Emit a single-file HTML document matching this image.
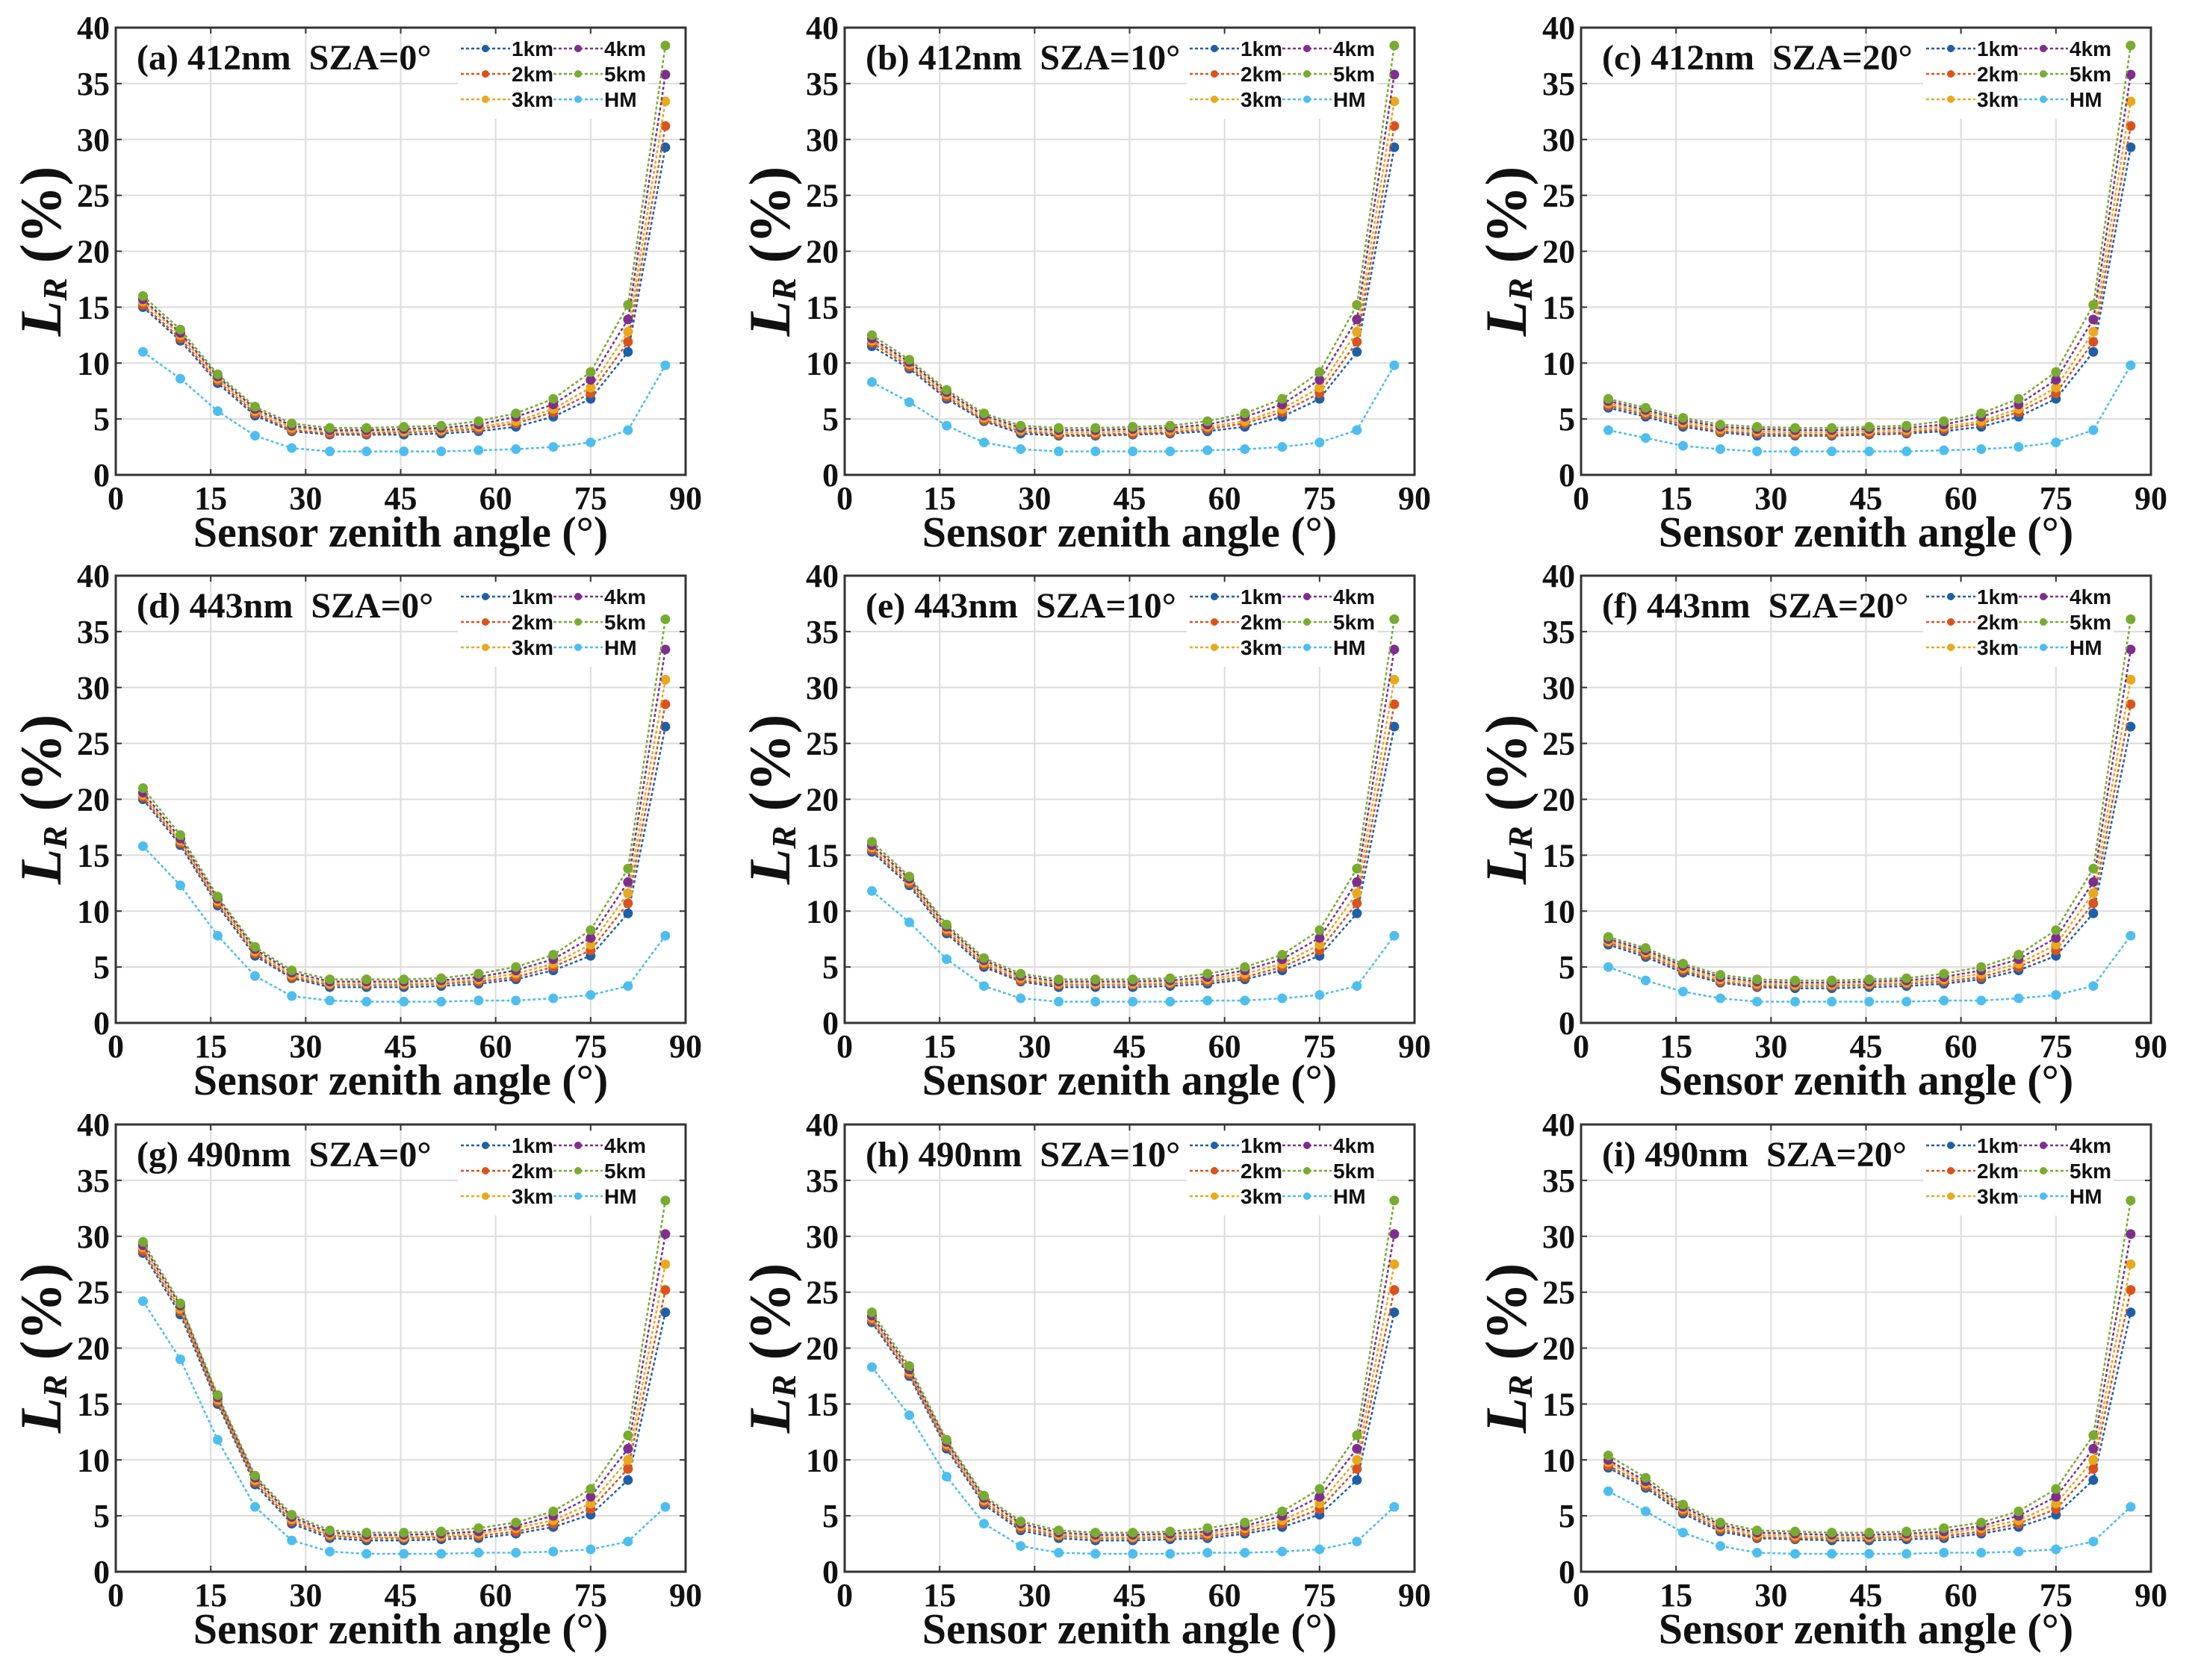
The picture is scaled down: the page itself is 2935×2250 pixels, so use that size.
<!DOCTYPE html>
<html><head><meta charset="utf-8"><style>
html,body{margin:0;padding:0;background:#fff;}
svg{display:block;}
text{font-family:"Liberation Serif",serif;font-weight:bold;fill:#111;}
.leg{font-family:"Liberation Sans",sans-serif;font-weight:bold;font-size:28px;}
</style></head><body>
<svg id="fig" xmlns="http://www.w3.org/2000/svg" width="2935" height="2250" viewBox="0 0 2935 2250"></svg>
<script>
const xAngles=[4.3,10.2,16.1,22,27.8,33.8,39.6,45.5,51.4,57.3,63.2,69.1,75,80.9,86.8];
const seriesNames=["1km","2km","3km","4km","5km","HM"];
const seriesColors=["#1f5fa8","#d9531e","#e8a91c","#7e2f8e","#77ac30","#4dbeee"];
const xTicks=[0,15,30,45,60,75,90];
const yTicks=[0,5,10,15,20,25,30,35,40];
const panelTitles=["(a) 412nm  SZA=0°","(b) 412nm  SZA=10°","(c) 412nm  SZA=20°","(d) 443nm  SZA=0°","(e) 443nm  SZA=10°","(f) 443nm  SZA=20°","(g) 490nm  SZA=0°","(h) 490nm  SZA=10°","(i) 490nm  SZA=20°"];
const panelA=[
[15.0,12.0,8.2,5.3,3.9,3.6,3.6,3.6,3.7,3.9,4.3,5.2,6.8,11.0,29.3],
[15.2,12.2,8.4,5.5,4.0,3.7,3.7,3.8,3.9,4.1,4.6,5.6,7.3,11.9,31.2],
[15.5,12.5,8.6,5.7,4.2,3.9,3.9,3.9,4.0,4.3,4.8,5.9,7.8,12.8,33.4],
[15.7,12.7,8.8,5.9,4.4,4.0,4.0,4.1,4.2,4.5,5.2,6.3,8.5,13.9,35.8],
[16.0,13.0,9.0,6.1,4.6,4.2,4.2,4.3,4.4,4.8,5.5,6.8,9.2,15.2,38.4],
[11.0,8.6,5.7,3.5,2.4,2.1,2.1,2.1,2.1,2.2,2.3,2.5,2.9,4.0,9.8]];
const panelB=[
[11.5,9.5,6.8,4.8,3.7,3.5,3.5,3.6,3.7,3.9,4.3,5.2,6.8,11.0,29.3],
[11.8,9.7,7.0,4.9,3.9,3.6,3.6,3.7,3.8,4.1,4.6,5.6,7.3,11.9,31.2],
[12.0,9.9,7.2,5.1,4.0,3.8,3.8,3.9,4.0,4.3,4.8,5.9,7.8,12.8,33.4],
[12.2,10.1,7.4,5.3,4.2,4.0,4.0,4.1,4.2,4.5,5.2,6.3,8.5,13.9,35.8],
[12.5,10.3,7.6,5.5,4.4,4.2,4.2,4.3,4.4,4.8,5.5,6.8,9.2,15.2,38.4],
[8.3,6.5,4.4,2.9,2.3,2.1,2.1,2.1,2.1,2.2,2.3,2.5,2.9,4.0,9.8]];
const panelC=[
[6.0,5.2,4.3,3.8,3.5,3.5,3.5,3.6,3.7,3.9,4.3,5.2,6.8,11.0,29.3],
[6.2,5.4,4.5,3.9,3.7,3.6,3.6,3.7,3.8,4.1,4.6,5.6,7.3,11.9,31.2],
[6.4,5.6,4.7,4.1,3.9,3.8,3.8,3.9,4.0,4.3,4.8,5.9,7.8,12.8,33.4],
[6.6,5.8,4.9,4.3,4.1,4.0,4.0,4.1,4.2,4.5,5.2,6.3,8.5,13.9,35.8],
[6.8,6.0,5.1,4.5,4.3,4.2,4.2,4.3,4.4,4.8,5.5,6.8,9.2,15.2,38.4],
[4.0,3.3,2.6,2.3,2.1,2.1,2.1,2.1,2.1,2.2,2.3,2.5,2.9,4.0,9.8]];
const panelD=[
[20.0,15.9,10.5,6.0,4.0,3.2,3.2,3.2,3.3,3.5,3.9,4.7,6.0,9.8,26.5],
[20.2,16.1,10.7,6.2,4.1,3.4,3.4,3.4,3.5,3.7,4.1,5.0,6.5,10.7,28.5],
[20.4,16.3,10.9,6.4,4.3,3.5,3.5,3.5,3.6,3.9,4.4,5.3,7.0,11.6,30.7],
[20.6,16.5,11.1,6.6,4.5,3.7,3.7,3.7,3.8,4.1,4.7,5.7,7.6,12.6,33.4],
[21.0,16.8,11.3,6.8,4.7,3.9,3.9,3.9,4.0,4.4,5.0,6.1,8.3,13.8,36.1],
[15.8,12.3,7.8,4.2,2.4,2.0,1.9,1.9,1.9,2.0,2.0,2.2,2.5,3.3,7.8]];
const panelE=[
[15.3,12.3,8.0,5.0,3.7,3.2,3.2,3.2,3.3,3.5,3.9,4.7,6.0,9.8,26.5],
[15.5,12.5,8.2,5.2,3.8,3.4,3.4,3.4,3.5,3.7,4.1,5.0,6.5,10.7,28.5],
[15.7,12.7,8.4,5.4,4.0,3.5,3.5,3.5,3.6,3.9,4.4,5.3,7.0,11.6,30.7],
[15.9,12.9,8.6,5.6,4.2,3.7,3.7,3.7,3.8,4.1,4.7,5.7,7.6,12.6,33.4],
[16.2,13.1,8.8,5.8,4.4,3.9,3.9,3.9,4.0,4.4,5.0,6.1,8.3,13.8,36.1],
[11.8,9.0,5.7,3.3,2.2,1.9,1.9,1.9,1.9,2.0,2.0,2.2,2.5,3.3,7.8]];
const panelF=[
[7.0,5.9,4.5,3.6,3.2,3.1,3.1,3.2,3.3,3.5,3.9,4.7,6.0,9.8,26.5],
[7.2,6.1,4.7,3.7,3.3,3.3,3.3,3.4,3.5,3.7,4.1,5.0,6.5,10.7,28.5],
[7.3,6.3,4.9,3.9,3.5,3.4,3.4,3.5,3.6,3.9,4.4,5.3,7.0,11.6,30.7],
[7.5,6.5,5.1,4.1,3.7,3.6,3.6,3.7,3.8,4.1,4.7,5.7,7.6,12.6,33.4],
[7.7,6.7,5.3,4.3,3.9,3.8,3.8,3.9,4.0,4.4,5.0,6.1,8.3,13.8,36.1],
[5.0,3.8,2.8,2.2,1.9,1.9,1.9,1.9,1.9,2.0,2.0,2.2,2.5,3.3,7.8]];
const panelG=[
[28.5,23.0,15.0,7.8,4.3,3.0,2.8,2.8,2.9,3.0,3.4,4.0,5.1,8.2,23.2],
[28.7,23.3,15.2,8.0,4.5,3.2,3.0,3.0,3.1,3.2,3.6,4.3,5.6,9.2,25.2],
[29.0,23.5,15.4,8.2,4.7,3.3,3.1,3.1,3.2,3.4,3.9,4.6,6.1,10.0,27.5],
[29.2,23.8,15.6,8.4,4.9,3.5,3.3,3.3,3.4,3.6,4.1,5.0,6.7,11.0,30.2],
[29.5,24.0,15.8,8.6,5.1,3.7,3.5,3.5,3.6,3.9,4.4,5.4,7.4,12.2,33.2],
[24.2,19.0,11.8,5.8,2.8,1.8,1.6,1.6,1.6,1.7,1.7,1.8,2.0,2.7,5.8]];
const panelH=[
[22.3,17.5,11.0,6.0,3.7,3.0,2.8,2.8,2.9,3.0,3.4,4.0,5.1,8.2,23.2],
[22.5,17.7,11.2,6.2,3.9,3.2,3.0,3.0,3.1,3.2,3.6,4.3,5.6,9.2,25.2],
[22.7,17.9,11.4,6.4,4.1,3.3,3.1,3.1,3.2,3.4,3.9,4.6,6.1,10.0,27.5],
[22.9,18.1,11.6,6.6,4.3,3.5,3.3,3.3,3.4,3.6,4.1,5.0,6.7,11.0,30.2],
[23.2,18.4,11.8,6.8,4.5,3.7,3.5,3.5,3.6,3.9,4.4,5.4,7.4,12.2,33.2],
[18.3,14.0,8.5,4.3,2.3,1.7,1.6,1.6,1.6,1.7,1.7,1.8,2.0,2.7,5.8]];
const panelI=[
[9.3,7.5,5.2,3.6,3.0,2.9,2.8,2.8,2.9,3.0,3.4,4.0,5.1,8.2,23.2],
[9.5,7.7,5.4,3.8,3.1,3.0,3.0,3.0,3.1,3.2,3.6,4.3,5.6,9.2,25.2],
[9.8,7.9,5.6,4.0,3.3,3.2,3.1,3.1,3.2,3.4,3.9,4.6,6.1,10.0,27.5],
[10.0,8.1,5.8,4.2,3.5,3.4,3.3,3.3,3.4,3.6,4.1,5.0,6.7,11.0,30.2],
[10.4,8.4,6.0,4.4,3.7,3.6,3.5,3.5,3.6,3.9,4.4,5.4,7.4,12.2,33.2],
[7.2,5.4,3.5,2.3,1.7,1.6,1.6,1.6,1.6,1.7,1.7,1.8,2.0,2.7,5.8]];
const allPanels=[panelA,panelB,panelC,panelD,panelE,panelF,panelG,panelH,panelI];

const NS="http://www.w3.org/2000/svg";
const svg=document.getElementById("fig");
function mk(tag,attrs,parent){const e=document.createElementNS(NS,tag);for(const k in attrs)e.setAttribute(k,attrs[k]);(parent||svg).appendChild(e);return e;}
const colLeft=[155,1131,2117], rowTop=[37,771,1506], PW=763, PH=599;

allPanels.forEach((data,pi)=>{
  const L=colLeft[pi%3], T=rowTop[Math.floor(pi/3)];
  const xs=v=>L+v/90*PW, ys=v=>T+PH-v/40*PH;
  const g=mk("g",{});
  
  
  mk("rect",{x:L,y:T,width:PW,height:PH,fill:"#fff"},g);
  xTicks.forEach(t=>{const l=mk("line",{x1:xs(t),x2:xs(t),y1:T,y2:T+PH,stroke:"#dcdcdc","stroke-width":2},g);
    
    mk("line",{x1:xs(t),x2:xs(t),y1:T+PH,y2:T+PH-8,stroke:"#333","stroke-width":2},g);
    mk("line",{x1:xs(t),x2:xs(t),y1:T,y2:T+8,stroke:"#333","stroke-width":2},g);
    const tx=mk("text",{x:xs(t),y:T+PH+46,"text-anchor":"middle","font-size":44},g);tx.textContent=t;
    });
  yTicks.forEach(t=>{const l=mk("line",{x1:L,x2:L+PW,y1:ys(t),y2:ys(t),stroke:"#dcdcdc","stroke-width":2},g);
    
    mk("line",{x1:L,x2:L+8,y1:ys(t),y2:ys(t),stroke:"#333","stroke-width":2},g);
    mk("line",{x1:L+PW,x2:L+PW-8,y1:ys(t),y2:ys(t),stroke:"#333","stroke-width":2},g);
    const tx=mk("text",{x:L-8,y:ys(t)+15,"text-anchor":"end","font-size":44},g);tx.textContent=t;
    });
  const fr=mk("rect",{x:L,y:T,width:PW,height:PH,fill:"none",stroke:"#333","stroke-width":3},g);
  
  data.forEach((vals,si)=>{
    const pts=vals.map((v,i)=>xs(xAngles[i]).toFixed(1)+","+ys(v).toFixed(1)).join(" ");
    const pl=mk("polyline",{points:pts,fill:"none",stroke:seriesColors[si],"stroke-width":2.5,"stroke-dasharray":"4 3"},g);
    
    vals.forEach((v,i)=>{const c=mk("circle",{cx:xs(xAngles[i]),cy:ys(v),r:6.5,fill:seriesColors[si]},g);
      });
  });
  const tt=mk("text",{x:L+28,y:T+56,"font-size":48,style:"white-space:pre"},g);tt.textContent=panelTitles[pi];
  
  const lg=mk("g",{},g);
  
  mk("rect",{x:L+458,y:T+10,width:255,height:112,fill:"#fff"},lg);
  seriesNames.forEach((n,si)=>{
    const col=Math.floor(si/3), row=si%3;
    const lx=L+462+col*124, ly=T+28+row*34;
    mk("line",{x1:lx,x2:lx+66,y1:ly,y2:ly,stroke:seriesColors[si],"stroke-width":2.5,"stroke-dasharray":"4 3"},lg);
    mk("circle",{cx:lx+33,cy:ly,r:5,fill:seriesColors[si]},lg);
    const tx=mk("text",{x:lx+68,y:ly+10,class:"leg"},lg);tx.textContent=n;
    
  });
  const xt=mk("text",{x:L+PW/2,y:T+PH+96,"text-anchor":"middle","font-size":58},g);xt.textContent="Sensor zenith angle (°)";
  
  const yt=mk("text",{transform:`translate(${L-74},${T+PH/2}) rotate(-90)`,"text-anchor":"middle","font-size":78},g);
  
  const t1=mk("tspan",{"font-style":"italic"},yt);t1.textContent="L";
  const t2=mk("tspan",{"font-style":"italic","font-size":46,dy:8},yt);t2.textContent="R";
  const t3=mk("tspan",{dy:-8},yt);t3.textContent=" (%)";
});
</script>
</body></html>
